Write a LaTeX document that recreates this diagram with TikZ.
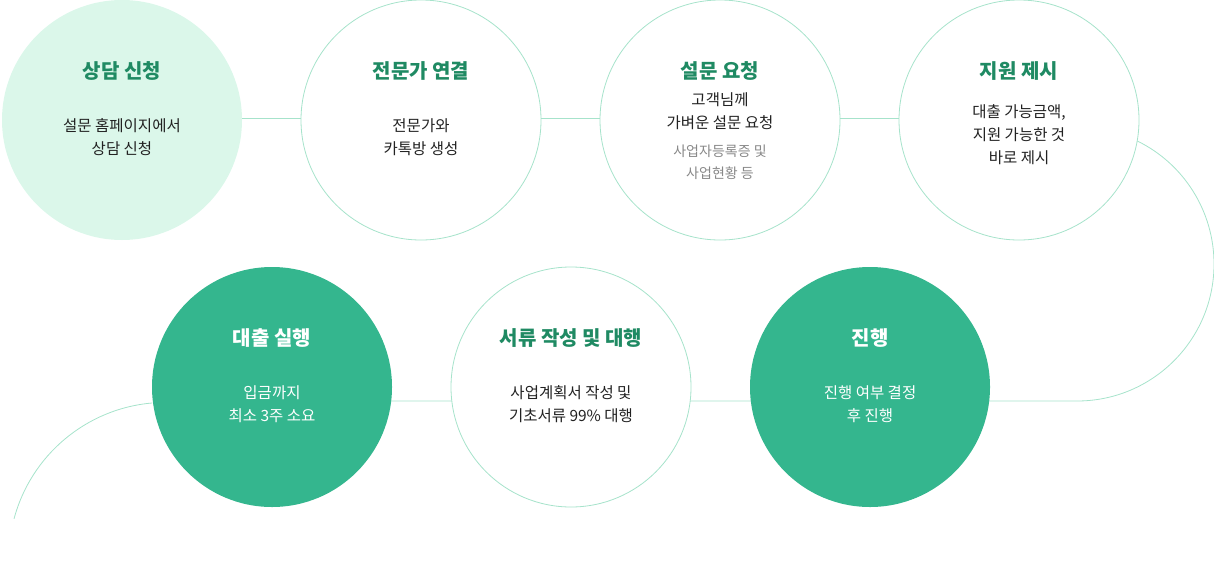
\documentclass[tikz,border=0pt]{standalone}
\usepackage{fontspec}
\setmainfont{Noto Sans CJK KR}
\definecolor{ln}{HTML}{A6E3CB}
\definecolor{lt}{HTML}{DBF7EA}
\definecolor{dk}{HTML}{34B68E}
\definecolor{tg}{HTML}{1F8A63}
\definecolor{gt}{HTML}{888888}
\definecolor{tx}{HTML}{222222}
\begin{document}
\begin{tikzpicture}[x=1pt,y=-1pt,
  circ/.style={circle,minimum size=240pt,inner sep=0pt,draw=ln,line width=0.8pt,fill=white},
  ttl/.style={font=\fontsize{20}{24}\selectfont\bfseries},
  bd/.style={font=\fontsize{15.5}{23}\selectfont,align=center,text=tx},
  conn/.style={draw=ln,line width=0.8pt}]
\useasboundingbox (0,0) rectangle (1214,581);
\draw[conn] (122,118) -- (1019,118);
\draw[conn] (272,401) -- (990,401) -- (1077,401) arc[start angle=90,end angle=-64,radius=137];
\draw[conn] (152,403) arc[start angle=-95,end angle=-165,radius=157];
\node[circ,fill=lt,draw=none] (a) at (122,120) {};
\node[circ] (b) at (421,120) {};
\node[circ] (c) at (720,120) {};
\node[circ] (d) at (1019,120) {};
\node[circ,fill=dk,draw=none] (e) at (272,387) {};
\node[circ] (f) at (571,387) {};
\node[circ,fill=dk,draw=none] (g) at (870,387) {};
\foreach \n/\t in {a/상담 신청,b/전문가 연결,c/설문 요청,d/지원 제시}{
  \node[ttl,text=tg] at ([yshift=49pt]\n) {\t};}
\node[ttl,text=white] at ([yshift=49pt]e) {대출 실행};
\node[ttl,text=tg] at ([yshift=49pt]f) {서류 작성 및 대행};
\node[ttl,text=white] at ([yshift=49pt]g) {진행};
\node[bd,anchor=north] (ta) at (122,115) {설문 홈페이지에서\\상담 신청};
\node[bd,anchor=north] (tb) at (421,115) {전문가와\\카톡방 생성};
\node[bd,anchor=north] (tc) at (720,89) {고객님께\\가벼운 설문 요청};
\node[bd,anchor=north,text=gt,font=\fontsize{14}{22}\selectfont] (tc2) at (720,141) {사업자등록증 및\\사업현황 등};
\node[bd,anchor=north] (td) at (1019,101) {대출 가능금액,\\지원 가능한 것\\바로 제시};
\node[bd,anchor=north,text=white] (te) at (272,382) {입금까지\\최소 3주 소요};
\node[bd,anchor=north] (tf) at (571,382) {사업계획서 작성 및\\기초서류 99\% 대행};
\node[bd,anchor=north,text=white] (tg) at (870,382) {진행 여부 결정\\후 진행};
\end{tikzpicture}
\end{document}
